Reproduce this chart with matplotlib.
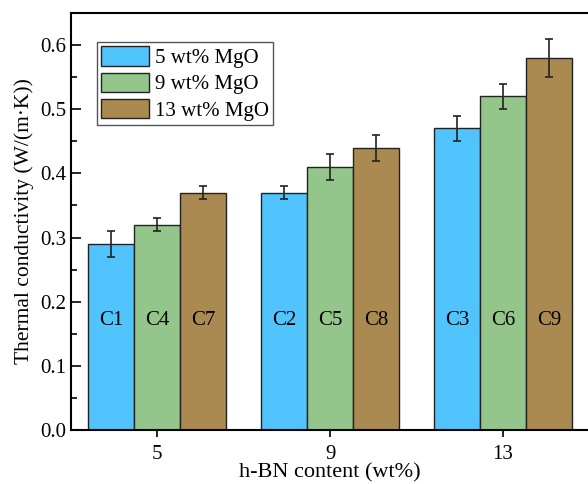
import matplotlib.pyplot as plt
import numpy as np
from matplotlib.ticker import MultipleLocator

plt.rcParams['font.family'] = ['Liberation Serif', 'DejaVu Serif']

groups = ['5', '9', '13']
series = ['5 wt% MgO', '9 wt% MgO', '13 wt% MgO']
colors = ['#51C4FE', '#94C58A', '#AA8A50']
values = [[0.29, 0.37, 0.47],
          [0.32, 0.41, 0.52],
          [0.37, 0.44, 0.58]]
errors = [[0.02, 0.01, 0.02],
          [0.01, 0.02, 0.02],
          [0.01, 0.02, 0.03]]
names = [['C1', 'C2', 'C3'],
         ['C4', 'C5', 'C6'],
         ['C7', 'C8', 'C9']]

fig = plt.figure(figsize=(5.88, 4.84), dpi=100)
ax = fig.add_axes([71/588, 54/484, 518.5/588, 417/484])

x = np.arange(len(groups))
w = 0.266
for i in range(3):
    pos = x + (i - 1) * w
    ax.bar(pos, values[i], w, color=colors[i], edgecolor='#222222', linewidth=1.0,
           label=series[i], yerr=errors[i], capsize=3,
           error_kw=dict(ecolor='#222222', elinewidth=1.2, capthick=1.2))
    for p, n in zip(pos, names[i]):
        ax.text(p, 0.17, n, ha='center', va='center', fontsize=15)

ax.set_xlim(-0.5, 2.5)
ax.set_ylim(0, 0.65)
ax.set_xticks(x)
ax.set_xticklabels(groups)
ax.yaxis.set_major_locator(MultipleLocator(0.1))
ax.yaxis.set_minor_locator(MultipleLocator(0.05))
ax.yaxis.set_major_formatter(plt.FormatStrFormatter('%.1f'))
ax.tick_params(axis='y', which='major', direction='in', length=7, width=1.2, labelsize=15)
ax.tick_params(axis='y', which='minor', direction='in', length=4, width=1.2)
ax.tick_params(axis='x', direction='out', length=5, width=1.2, labelsize=15, pad=6)
for s in ax.spines.values():
    s.set_linewidth(1.5)

ax.set_ylabel('Thermal conductivity (W/(m·K))', fontsize=15.5)
ax.set_xlabel('h-BN content (wt%)', fontsize=16, labelpad=-1)

leg = ax.legend(loc='upper left', bbox_to_anchor=(0.05, 0.93), fontsize=15,
                handlelength=2.3, handleheight=1.05, fancybox=False, framealpha=1,
                borderpad=0.2, labelspacing=0.22, handletextpad=0.3, borderaxespad=0)
leg.get_frame().set_edgecolor('#555555')
leg.get_frame().set_linewidth(1.0)

fig.savefig('out.png', dpi=100)
